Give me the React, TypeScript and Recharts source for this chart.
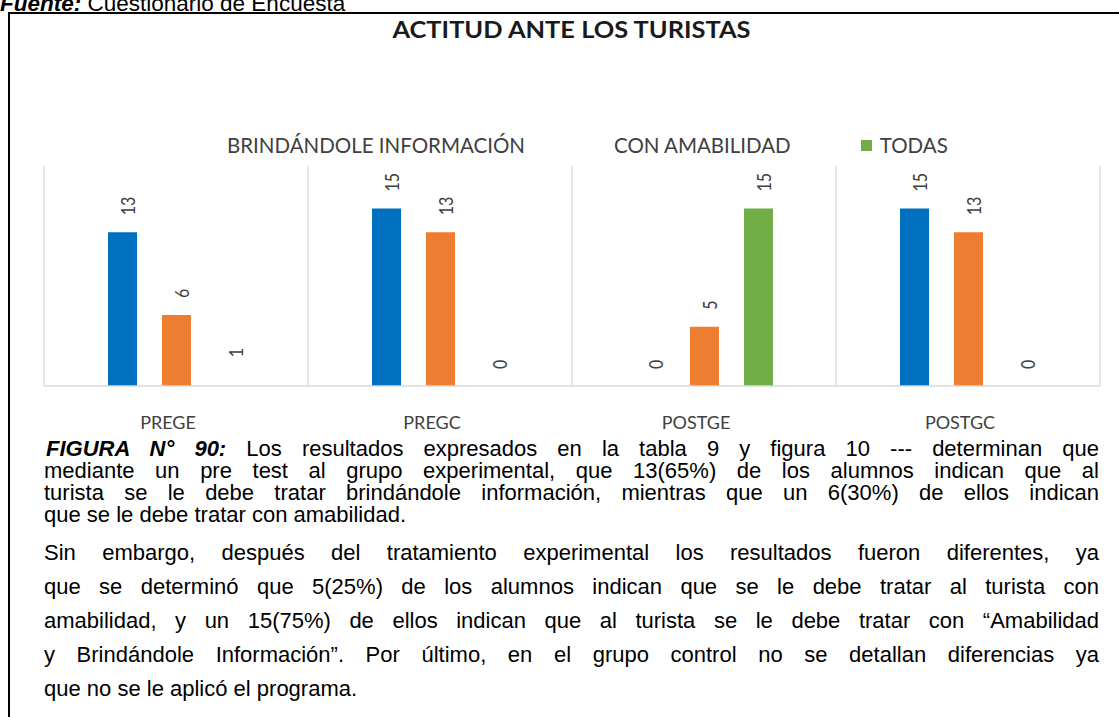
import { Bar, BarChart, CartesianGrid, Cell, LabelList, XAxis, YAxis } from "recharts";

const CATEGORIES = ["PREGE", "PREGC", "POSTGE", "POSTGC"];
const BRINDANDOLE = [13, 15, 0, 15];
const AMABILIDAD = [6, 13, 5, 13];
const TODAS = [1, 0, 15, 0];
const SERIES_NAMES = ["BRINDÁNDOLE INFORMACIÓN", "CON AMABILIDAD", "TODAS"];
const COLORS = ["#0070C0", "#ED7D31", "#70AD47"];

// the original has no fill on the PREGE "TODAS" bar and no swatch on the first two legend keys
const TODAS_VISIBLE = [false, true, true, true];
const SWATCH_VISIBLE = [false, false, true];

const PARA_1 = [
  "mediante un pre test al grupo experimental, que 13(65%) de los alumnos indican que al",
  "turista se le debe tratar brindándole información, mientras que un 6(30%) de ellos indican",
];
const PARA_1_LAST = "que se le debe tratar con amabilidad.";
const PARA_2 = [
  "Sin embargo, después del tratamiento experimental los resultados fueron diferentes, ya",
  "que se determinó que 5(25%) de los alumnos indican que se le debe tratar al turista con",
  "amabilidad, y un 15(75%) de ellos indican que al turista se le debe tratar con “Amabilidad",
  "y Brindándole Información”. Por último, en el grupo control no se detallan diferencias ya",
];
const PARA_2_LAST = "que no se le aplicó el programa.";

const data = CATEGORIES.map((cat, i) => ({
  cat,
  brind: BRINDANDOLE[i],
  amab: AMABILIDAD[i],
  todas: TODAS[i],
}));

const CALIBRI = "Lato, 'Open Sans', sans-serif";
const ARIAL = "'Liberation Sans', Arial, sans-serif";
const TEXT = "#404040";
const GRID = "#d9d9d9";

function RotLabel(props: any) {
  const { x, y, width, value } = props;
  const bx = x + width / 2 + 12;
  const by = y - 17;
  return (
    <text
      x={0}
      y={0}
      transform={`translate(${bx} ${by}) rotate(-90) scale(1 1.25)`}
      textAnchor="start"
      fill={TEXT}
      fontFamily={CALIBRI}
      fontSize={16}
    >
      {value}
    </text>
  );
}

function CatTick({ x, y, payload }: any) {
  return (
    <text x={x - 8} y={y + 43} textAnchor="middle" fill={TEXT} fontFamily={CALIBRI} fontSize={18}>
      {payload.value}
    </text>
  );
}

const lineStyle = (h: number, justify: boolean) => ({
  height: h,
  lineHeight: `${h}px`,
  whiteSpace: "nowrap" as const,
  textAlign: (justify ? "justify" : "left") as any,
  textAlignLast: (justify ? "justify" : "left") as any,
});

export default function App() {
  const dataKeys = ["brind", "amab", "todas"];
  return (
    <div
      style={{
        position: "fixed",
        left: 0,
        top: 0,
        width: 1119,
        height: 717,
        overflow: "hidden",
        background: "#fff",
      }}
    >
      <div
        style={{
          position: "absolute",
          left: 0,
          top: -8,
          fontFamily: ARIAL,
          fontSize: 22.5,
          lineHeight: "23px",
          whiteSpace: "nowrap",
          color: "#000",
        }}
      >
        <b>
          <i>Fuente:</i>
        </b>{" "}
        Cuestionario de Encuesta
      </div>

      <div
        style={{
          position: "absolute",
          left: 8,
          top: 12,
          width: 1300,
          height: 900,
          border: "2px solid #000",
          boxSizing: "border-box",
        }}
      />

      <div style={{ position: "absolute", left: 0, top: 0 }}>
        <BarChart
          width={1119}
          height={460}
          data={data}
          margin={{ top: 166, right: 19, bottom: 0, left: 44 }}
          barSize={29}
          barGap={25}
        >
          <CartesianGrid
            horizontal={false}
            stroke={GRID}
            strokeWidth={1.3}
            verticalCoordinatesGenerator={({ offset }: any) =>
              CATEGORIES.concat("").map((_, i) => offset.left + (i * offset.width) / CATEGORIES.length)
            }
          />
          <XAxis
            dataKey="cat"
            height={74}
            interval={0}
            tickLine={false}
            tickSize={0}
            tickMargin={0}
            axisLine={{ stroke: GRID, strokeWidth: 1.5 }}
            tick={<CatTick />}
          />
          <YAxis hide domain={[0, 18.6]} />
          {dataKeys.map((k, si) => (
            <Bar
              key={k}
              dataKey={k}
              name={SERIES_NAMES[si]}
              fill={COLORS[si]}
              minPointSize={0.001}
              isAnimationActive={false}
            >
              {k === "todas" &&
                data.map((_, i) => (
                  <Cell key={i} fill={COLORS[si]} fillOpacity={TODAS_VISIBLE[i] ? 1 : 0} />
                ))}
              <LabelList dataKey={k} content={RotLabel} />
            </Bar>
          ))}
        </BarChart>
      </div>

      <div
        style={{
          position: "absolute",
          left: 0,
          width: 1143,
          top: 18,
          textAlign: "center",
          fontFamily: CALIBRI,
          fontWeight: 700,
          fontSize: 22,
          lineHeight: "24px",
          color: "#1a1a1a",
          whiteSpace: "nowrap",
          transform: "scaleX(1.155)",
          transformOrigin: "571.5px 0",
        }}
      >
        ACTITUD ANTE LOS TURISTAS
      </div>

      <div
        style={{
          position: "absolute",
          left: 208,
          top: 134,
          display: "flex",
          gap: 70,
          fontFamily: CALIBRI,
          fontSize: 20.5,
          lineHeight: "22px",
          color: TEXT,
          whiteSpace: "nowrap",
        }}
      >
        {SERIES_NAMES.map((n, i) => (
          <div key={n} style={{ display: "flex", alignItems: "center", gap: 8 }}>
            <span
              style={{
                width: 11,
                height: 11,
                background: COLORS[i],
                visibility: SWATCH_VISIBLE[i] ? "visible" : "hidden",
              }}
            />
            <span>{n}</span>
          </div>
        ))}
      </div>

      <div
        style={{
          position: "absolute",
          left: 44,
          top: 438,
          width: 1055,
          fontFamily: ARIAL,
          fontSize: 22,
          color: "#000",
        }}
      >
        <div style={{ ...lineStyle(22, true), paddingLeft: 2, whiteSpace: "normal" }}>
          <b>
            <i>FIGURA N° 90:</i>
          </b>{" "}
          Los resultados expresados en la tabla 9 y figura 10 --- determinan que
        </div>
        {PARA_1.map((l) => (
          <div key={l} style={{ ...lineStyle(22, true), whiteSpace: "normal" }}>
            {l}
          </div>
        ))}
        <div style={lineStyle(22, false)}>{PARA_1_LAST}</div>
        <div style={{ height: 10 }} />
        {PARA_2.map((l) => (
          <div key={l} style={{ ...lineStyle(34, true), whiteSpace: "normal" }}>
            {l}
          </div>
        ))}
        <div style={lineStyle(34, false)}>{PARA_2_LAST}</div>
      </div>
    </div>
  );
}
